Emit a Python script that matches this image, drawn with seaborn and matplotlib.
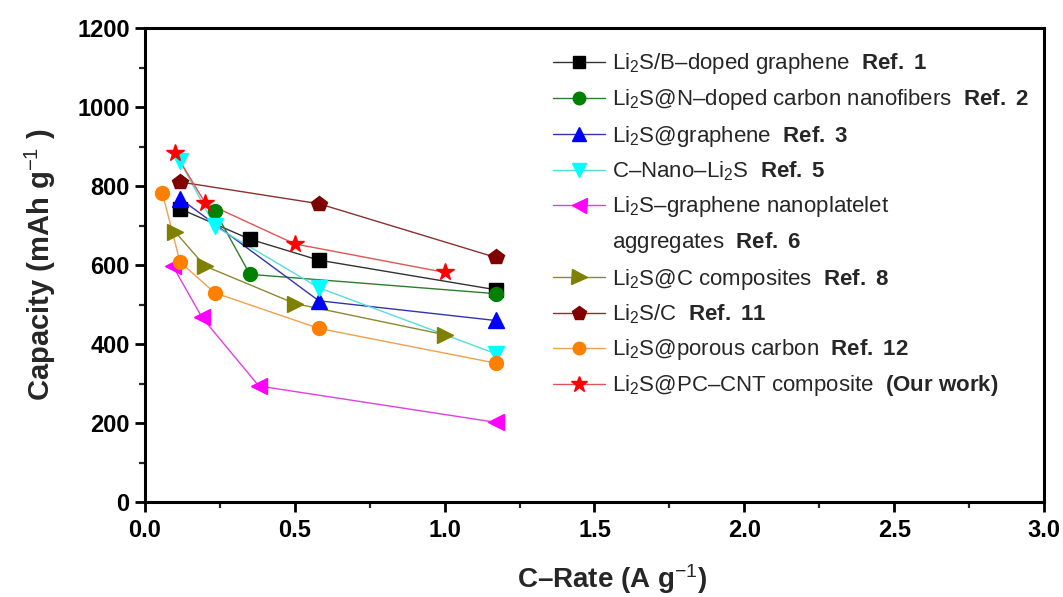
import numpy as np
import pandas as pd
import seaborn as sns
import matplotlib
import matplotlib.pyplot as plt
from matplotlib.lines import Line2D
from matplotlib.ticker import MultipleLocator

# ---- data ----
series_names = [
    "Li$_2$S/B\u2013doped graphene  $\\mathbf{Ref.\\ 1}$",
    "Li$_2$S@N\u2013doped carbon nanofibers  $\\mathbf{Ref.\\ 2}$",
    "Li$_2$S@graphene  $\\mathbf{Ref.\\ 3}$",
    "C\u2013Nano\u2013Li$_2$S  $\\mathbf{Ref.\\ 5}$",
    "Li$_2$S\u2013graphene nanoplatelet",
    "Li$_2$S@C composites  $\\mathbf{Ref.\\ 8}$",
    "Li$_2$S/C  $\\mathbf{Ref.\\ 11}$",
    "Li$_2$S@porous carbon  $\\mathbf{Ref.\\ 12}$",
    "Li$_2$S@PC\u2013CNT composite  $\\mathbf{(Our\\ work)}$",
]
extra_line = "aggregates  $\\mathbf{Ref.\\ 6}$"

x_ref1 = [0.117, 0.35, 0.58, 1.17]
y_ref1 = [743, 666, 613, 538]
x_ref2 = [0.233, 0.35, 1.17]
y_ref2 = [738, 577, 528]
x_ref3 = [0.117, 0.58, 1.17]
y_ref3 = [769, 510, 460]
x_ref5 = [0.117, 0.233, 0.58, 1.17]
y_ref5 = [864, 699, 543, 376]
x_ref6 = [0.093, 0.19, 0.38, 1.17]
y_ref6 = [598, 468, 294, 202]
x_ref8 = [0.1, 0.2, 0.5, 1.0]
y_ref8 = [685, 598, 503, 424]
x_ref11 = [0.117, 0.58, 1.17]
y_ref11 = [811, 756, 620]
x_ref12 = [0.058, 0.117, 0.233, 0.58, 1.17]
y_ref12 = [783, 608, 530, 440, 352]
x_our = [0.1, 0.2, 0.5, 1.0]
y_our = [885, 759, 654, 582]

xs = [x_ref1, x_ref2, x_ref3, x_ref5, x_ref6, x_ref8, x_ref11, x_ref12, x_our]
ys = [y_ref1, y_ref2, y_ref3, y_ref5, y_ref6, y_ref8, y_ref11, y_ref12, y_our]

colors = ["#000000", "#008000", "#0000FF", "#00FFFF", "#FF00FF",
          "#808000", "#800000", "#FF8000", "#FF0000"]
line_colors = ["#333333", "#2E7D2E", "#3333AA", "#55DDDD", "#E040E0",
               "#8A8A30", "#8A3030", "#F0A050", "#E05555"]
markers = ["s", "o", "^", "v", "<", ">", "p", "o", "*"]
msizes = [9.5, 10, 11, 11.5, 12, 12, 11.5, 10, 13]

# ---- style ----
sns.set_style("ticks")
plt.rcParams["font.family"] = ["Liberation Sans", "DejaVu Sans"]
plt.rcParams["mathtext.fontset"] = "custom"
plt.rcParams["mathtext.rm"] = "Liberation Sans"
plt.rcParams["mathtext.bf"] = "Liberation Sans:bold"
plt.rcParams["mathtext.it"] = "Liberation Sans:italic"

fig = plt.figure(figsize=(10.63, 5.97), dpi=100)
ax = fig.add_axes([0.1364, 0.1591, 0.9821 - 0.1364, 0.9523 - 0.1591])

rows = []
for name, xv, yv in zip(series_names, xs, ys):
    for a, b in zip(xv, yv):
        rows.append({"series": name, "x": a, "y": b})
df = pd.DataFrame(rows)

handles = []
for i, name in enumerate(series_names):
    sub = df[df["series"] == name]
    sns.lineplot(data=sub, x="x", y="y", ax=ax, color=line_colors[i],
                 linewidth=1.0, sort=False, errorbar=None, legend=False)
    ax.plot(sub["x"], sub["y"], linestyle="none", marker=markers[i],
            markersize=msizes[i], markerfacecolor=colors[i],
            markeredgecolor=colors[i], zorder=3)
    h = Line2D([], [], color=line_colors[i], linewidth=1.0, marker=markers[i],
               markersize=msizes[i] * 0.9, markerfacecolor=colors[i],
               markeredgecolor=colors[i])
    handles.append((h, name))
    if i == 4:
        handles.append((Line2D([], [], linestyle="none"), extra_line))

ax.set_xlim(0, 3.0)
ax.set_ylim(0, 1200)
ax.set_xticks(np.arange(0, 3.01, 0.5))
ax.set_xticklabels([f"{v:.1f}" for v in np.arange(0, 3.01, 0.5)])
ax.xaxis.set_minor_locator(MultipleLocator(0.25))
ax.yaxis.set_major_locator(MultipleLocator(200))
ax.yaxis.set_minor_locator(MultipleLocator(100))

for sp in ax.spines.values():
    sp.set_linewidth(2.2)
    sp.set_color("black")
ax.tick_params(axis="both", which="major", direction="out", length=7.5, width=2.0,
               labelsize=17, top=False, right=False, colors="black")
ax.tick_params(axis="y", which="major", pad=3.5)
ax.tick_params(axis="x", which="major", pad=4.5)
ax.tick_params(axis="both", which="minor", direction="out", length=4, width=1.6,
               top=False, right=False)
for lab in ax.get_xticklabels() + ax.get_yticklabels():
    lab.set_fontweight("bold")

ax.set_xlabel("C\u2013Rate (A g$^{-1}$)", fontsize=20, fontweight="bold")
ax.set_ylabel("Capacity (mAh g$^{-1}$ )", fontsize=21, fontweight="bold")
ax.xaxis.set_label_coords(0.5195, -0.128)
ax.yaxis.set_label_coords(-0.097, 0.5)

leg = ax.legend([h for h, _ in handles], [l for _, l in handles],
                loc="upper left", bbox_to_anchor=(0.4438, 0.9706), frameon=False,
                fontsize=16, handlelength=2.34, handletextpad=0.3,
                labelspacing=0.50, borderaxespad=0)

fig.savefig("out.png", dpi=100)
